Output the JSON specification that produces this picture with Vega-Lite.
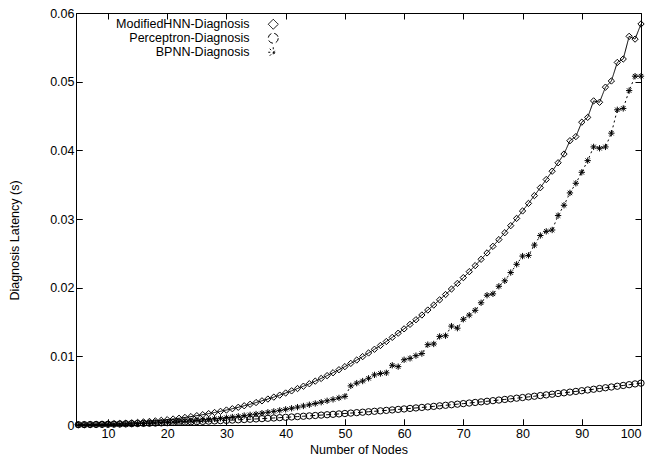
{
  "$schema": "https://vega.github.io/schema/vega-lite/v6.json",
  "width": 565,
  "height": 412,
  "autosize": {"type": "none"},
  "padding": {"left": 76, "top": 13, "right": 11, "bottom": 38},
  "background": "white",
  "data": {"values": [
    {"n":5,"H":0.00003,"P":0.000044,"B":0.000015},
    {"n":6,"H":0.000045,"P":0.000056,"B":0.000022},
    {"n":7,"H":0.000063,"P":0.000069,"B":0.000031},
    {"n":8,"H":0.000086,"P":0.000083,"B":0.000042},
    {"n":9,"H":0.000113,"P":0.000099,"B":0.000055},
    {"n":10,"H":0.000144,"P":0.000115,"B":0.00007},
    {"n":11,"H":0.00018,"P":0.000133,"B":0.000088},
    {"n":12,"H":0.000222,"P":0.000151,"B":0.000109},
    {"n":13,"H":0.000269,"P":0.000171,"B":0.000132},
    {"n":14,"H":0.00032,"P":0.000192,"B":0.000157},
    {"n":15,"H":0.000379,"P":0.000214,"B":0.000186},
    {"n":16,"H":0.000444,"P":0.000237,"B":0.000218},
    {"n":17,"H":0.000516,"P":0.000261,"B":0.000253},
    {"n":18,"H":0.000594,"P":0.000286,"B":0.000291},
    {"n":19,"H":0.000679,"P":0.000313,"B":0.000333},
    {"n":20,"H":0.000772,"P":0.00034,"B":0.000378},
    {"n":21,"H":0.000873,"P":0.000369,"B":0.000428},
    {"n":22,"H":0.000982,"P":0.000398,"B":0.000481},
    {"n":23,"H":0.0011,"P":0.000429,"B":0.000539},
    {"n":24,"H":0.00122,"P":0.000461,"B":0.000598},
    {"n":25,"H":0.00136,"P":0.000494,"B":0.000666},
    {"n":26,"H":0.0015,"P":0.000528,"B":0.000735},
    {"n":27,"H":0.00166,"P":0.000563,"B":0.000813},
    {"n":28,"H":0.00182,"P":0.000599,"B":0.000892},
    {"n":29,"H":0.00199,"P":0.000637,"B":0.000975},
    {"n":30,"H":0.00218,"P":0.000675,"B":0.001068},
    {"n":31,"H":0.00237,"P":0.000715,"B":0.001161},
    {"n":32,"H":0.00258,"P":0.000755,"B":0.001264},
    {"n":33,"H":0.0028,"P":0.000797,"B":0.001372},
    {"n":34,"H":0.00302,"P":0.00084,"B":0.00148},
    {"n":35,"H":0.00327,"P":0.000884,"B":0.001602},
    {"n":36,"H":0.00352,"P":0.000929,"B":0.001725},
    {"n":37,"H":0.00378,"P":0.000975,"B":0.001852},
    {"n":38,"H":0.00406,"P":0.001022,"B":0.001989},
    {"n":39,"H":0.00435,"P":0.001071,"B":0.002132},
    {"n":40,"H":0.00466,"P":0.00112,"B":0.002283},
    {"n":41,"H":0.00497,"P":0.001171,"B":0.002435},
    {"n":42,"H":0.00531,"P":0.001222,"B":0.002602},
    {"n":43,"H":0.00565,"P":0.001275,"B":0.002769},
    {"n":44,"H":0.00601,"P":0.001329,"B":0.002945},
    {"n":45,"H":0.00639,"P":0.001384,"B":0.003131},
    {"n":46,"H":0.00678,"P":0.00144,"B":0.003322},
    {"n":47,"H":0.00719,"P":0.001497,"B":0.003523},
    {"n":48,"H":0.00761,"P":0.001555,"B":0.003729},
    {"n":49,"H":0.00805,"P":0.001615,"B":0.003945},
    {"n":50,"H":0.0085,"P":0.001675,"B":0.004165},
    {"n":51,"H":0.00897,"P":0.001737,"B":0.0057},
    {"n":52,"H":0.00946,"P":0.001799,"B":0.0061},
    {"n":53,"H":0.00996,"P":0.001863,"B":0.0064},
    {"n":54,"H":0.01049,"P":0.001928,"B":0.0068},
    {"n":55,"H":0.01103,"P":0.001994,"B":0.0073},
    {"n":56,"H":0.01158,"P":0.002061,"B":0.0075},
    {"n":57,"H":0.01216,"P":0.002129,"B":0.0076},
    {"n":58,"H":0.01276,"P":0.002198,"B":0.0087},
    {"n":59,"H":0.01337,"P":0.002269,"B":0.0085},
    {"n":60,"H":0.014,"P":0.00234,"B":0.0095},
    {"n":61,"H":0.01466,"P":0.002413,"B":0.0097},
    {"n":62,"H":0.01533,"P":0.002486,"B":0.0101},
    {"n":63,"H":0.01602,"P":0.002561,"B":0.0104},
    {"n":64,"H":0.01674,"P":0.002637,"B":0.0117},
    {"n":65,"H":0.01747,"P":0.002714,"B":0.0118},
    {"n":66,"H":0.01823,"P":0.002792,"B":0.0129},
    {"n":67,"H":0.019,"P":0.002871,"B":0.013},
    {"n":68,"H":0.0198,"P":0.002951,"B":0.0144},
    {"n":69,"H":0.02062,"P":0.003033,"B":0.0141},
    {"n":70,"H":0.02146,"P":0.003115,"B":0.0154},
    {"n":71,"H":0.02233,"P":0.003199,"B":0.016},
    {"n":72,"H":0.02321,"P":0.003283,"B":0.0167},
    {"n":73,"H":0.02413,"P":0.003369,"B":0.0178},
    {"n":74,"H":0.02506,"P":0.003456,"B":0.0189},
    {"n":75,"H":0.02602,"P":0.003544,"B":0.0191},
    {"n":76,"H":0.027,"P":0.003633,"B":0.0202},
    {"n":77,"H":0.028,"P":0.003723,"B":0.021},
    {"n":78,"H":0.02903,"P":0.003814,"B":0.0222},
    {"n":79,"H":0.03009,"P":0.003907,"B":0.0234},
    {"n":80,"H":0.03117,"P":0.004,"B":0.0246},
    {"n":81,"H":0.03227,"P":0.004095,"B":0.0247},
    {"n":82,"H":0.03341,"P":0.00419,"B":0.0262},
    {"n":83,"H":0.03456,"P":0.004287,"B":0.0276},
    {"n":84,"H":0.03575,"P":0.004385,"B":0.0282},
    {"n":85,"H":0.03696,"P":0.004484,"B":0.0284},
    {"n":86,"H":0.03819,"P":0.004584,"B":0.0305},
    {"n":87,"H":0.03946,"P":0.004685,"B":0.032},
    {"n":88,"H":0.0414,"P":0.004787,"B":0.0338},
    {"n":89,"H":0.042,"P":0.004891,"B":0.0352},
    {"n":90,"H":0.0441,"P":0.004995,"B":0.0368},
    {"n":91,"H":0.0448,"P":0.005101,"B":0.0385},
    {"n":92,"H":0.0472,"P":0.005207,"B":0.0405},
    {"n":93,"H":0.047,"P":0.005315,"B":0.0403},
    {"n":94,"H":0.0492,"P":0.005424,"B":0.0405},
    {"n":95,"H":0.0501,"P":0.005534,"B":0.0425},
    {"n":96,"H":0.0528,"P":0.005645,"B":0.0459},
    {"n":97,"H":0.0533,"P":0.005757,"B":0.0461},
    {"n":98,"H":0.0566,"P":0.00587,"B":0.0487},
    {"n":99,"H":0.0562,"P":0.005985,"B":0.0508},
    {"n":100,"H":0.0584,"P":0.0061,"B":0.0508}
  ]},
  "transform": [{"fold": ["H", "P", "B"], "as": ["s", "v"]}],
  "layer": [
    {
      "mark": {"type": "point", "filled": false, "color": "black", "strokeWidth": 1, "opacity": 1},
      "encoding": {
        "x": {"field": "n", "type": "quantitative",
              "scale": {"domain": [4.6, 100], "nice": false, "zero": false},
              "axis": {"orient": "bottom", "title": "Number of Nodes", "values": [10,20,30,40,50,60,70,80,90,100],
                       "grid": true, "gridColor": "black", "gridOpacity": 1, "gridWidth": 1, "gridDash": [6, 400, 6, 10]}},
        "y": {"field": "v", "type": "quantitative",
              "scale": {"domain": [0, 0.06], "nice": false},
              "axis": {"orient": "left", "title": "Diagnosis Latency (s)", "values": [0,0.01,0.02,0.03,0.04,0.05,0.06],
                       "labelExpr": "datum.value == 0 ? '0' : format(datum.value, '.2f')",
                       "grid": true, "gridColor": "black", "gridOpacity": 1, "gridWidth": 1, "gridDash": [6, 553, 6, 10],
                       "titleAngle": 270, "titleX": -62, "titleY": 227, "titleAlign": "center", "titleBaseline": "middle"}},
        "shape": {"field": "s", "type": "nominal",
                  "scale": {"domain": ["H", "P", "B"],
                            "range": ["diamond", "circle", "M-1,0L1,0M0,-1L0,1M-0.7,-0.7L0.7,0.7M-0.7,0.7L0.7,-0.7"]},
                  "legend": {
                    "title": null, "orient": "none", "legendX": 191, "legendY": 5,
                    "padding": 0, "rowPadding": -2, "symbolSize": 100, "symbolOffset": 0,
                    "labelOffset": -30, "labelAlign": "right",
                    "labelExpr": "datum.value == 'H' ? 'ModifiedHNN-Diagnosis' : datum.value == 'P' ? 'Perceptron-Diagnosis' : 'BPNN-Diagnosis'",
                    "symbolStrokeColor": "black", "symbolStrokeWidth": 1,
                    "encode": {"symbols": {
                      "shape": {"value": {"expr": "datum.value == 'H' ? 'M-3.6,0L-0.65,0M0.65,0L3.6,0M0,-0.65L0.65,0L0,0.65L-0.65,0Z' : datum.value == 'P' ? 'M-3.6,0L-0.65,0M0.65,0L3.6,0M0.65,0L0.563,0.325L0.325,0.563L0,0.65L-0.325,0.563L-0.563,0.325L-0.65,0L-0.563,-0.325L-0.325,-0.563L0,-0.65L0.325,-0.563L0.563,-0.325Z' : 'M-3.6,0L3.6,0M0,-0.65L0,0.65M-0.46,-0.46L0.46,0.46M-0.46,0.46L0.46,-0.46'"}}
                    }}
                  }},
        "size": {"value": 40}
      }
    },
    {
      "mark": {"type": "line", "color": "black", "strokeWidth": 1},
      "encoding": {
        "x": {"field": "n", "type": "quantitative"},
        "y": {"field": "v", "type": "quantitative"},
        "strokeDash": {"field": "s", "type": "nominal",
                       "scale": {"domain": ["H", "P", "B"], "range": [[1, 0], [5, 3], [2, 3]]},
                       "legend": null},
        "detail": {"field": "s"}
      }
    }
  ],
  "config": {
    "view": {"stroke": "black", "strokeWidth": 1},
    "font": "Liberation Sans",
    "axis": {
      "domain": false, "tickColor": "black", "tickSize": -6, "tickWidth": 1,
      "labelFont": "Liberation Sans", "labelFontSize": 12.5, "labelColor": "black",
      "titleFont": "Liberation Sans", "titleFontSize": 12.5, "titleFontWeight": "normal", "titleColor": "black",
      "labelPadding": 8
    },
    "legend": {"labelFont": "Liberation Sans", "labelFontSize": 12.5, "labelColor": "black"}
  }
}
